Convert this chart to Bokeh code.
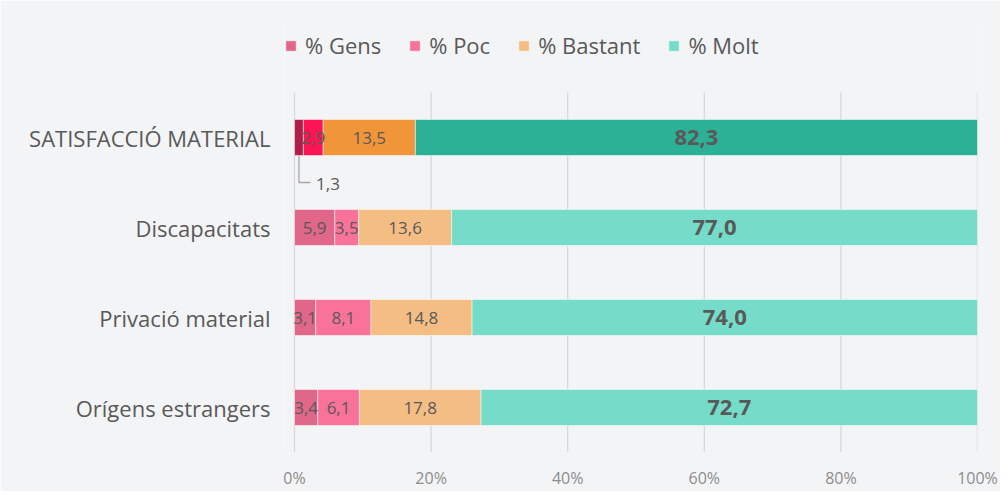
from bokeh.plotting import figure
from bokeh.models import (ColumnDataSource, Range1d, FixedTicker, PrintfTickFormatter,
                          Legend, LegendItem)
from bokeh.core.properties import value
from bokeh.embed import file_html
from bokeh.resources import INLINE

# ---- data ----
categories = ["SATISFACCIÓ MATERIAL", "Discapacitats", "Privació material", "Orígens estrangers"]
series = ["% Gens", "% Poc", "% Bastant", "% Molt"]
gens = [1.3, 5.9, 3.1, 3.4]
poc = [2.9, 3.5, 8.1, 6.1]
bastant = [13.5, 13.6, 14.8, 17.8]
molt = [82.3, 77.0, 74.0, 72.7]
x_ticks = [0, 20, 40, 60, 80, 100]

# ---- styles ----
colors_base = ["#e0668a", "#f8729a", "#f4bd84", "#74dcc8"]
colors_highlight = ["#b01f48", "#fc1454", "#f09538", "#2cb197"]
bg = "#f3f4f6"
grid_col = "#d9d9d9"
txt_col = "#595959"
FONT = "Open Sans"

n = len(categories)
ys = [n - 1 - i for i in range(n)]
FRAME_W, FRAME_H = 693, 434
y_top = -0.5 + FRAME_H / 90.0      # frame extends above the bars to hold the legend
x_start = -10 / 6.83               # small room left of 0% so the legend can start there

p = figure(frame_width=FRAME_W, frame_height=FRAME_H, output_backend="svg", toolbar_location=None,
           x_range=Range1d(x_start, 100), y_range=Range1d(-0.5, y_top),
           min_border_left=284, min_border_right=23, min_border_top=18, min_border_bottom=30,
           background_fill_color=bg, border_fill_color=bg)
p.outline_line_color = None

# vertical gridlines limited to the bar area
p.segment(x0=x_ticks, x1=x_ticks, y0=[-0.5] * len(x_ticks), y1=[n - 0.5] * len(x_ticks),
          line_color=grid_col, line_width=1.3, level="underlay")

all_vals = [gens, poc, bastant, molt]
cum = [0.0] * n
renderers = []
lab_x, lab_y, lab_t, lab_bold = [], [], [], []
lead_xs, lead_ys, out_x, out_y, out_t = [], [], [], [], []
for k, vals in enumerate(all_vals):
    left = list(cum)
    right = [c + v for c, v in zip(cum, vals)]
    cols = [colors_highlight[k] if i == 0 else colors_base[k] for i in range(n)]
    src = ColumnDataSource(dict(y=ys, left=left, right=right, color=cols))
    r = p.hbar(y="y", left="left", right="right", height=0.4, source=src,
               fill_color="color", line_color="#ffffff", line_alpha=0.5, line_width=1)
    renderers.append(r)
    for i, v in enumerate(vals):
        t = f"{v:.1f}".replace(".", ",")
        cx = left[i] + v / 2
        if v < 2:
            lead_xs.append([cx, cx, cx + 1.7])
            lead_ys.append([ys[i] - 0.2, ys[i] - 0.5, ys[i] - 0.5])
            out_x.append(cx + 2.5)
            out_y.append(ys[i] - 0.52)
            out_t.append(t)
        else:
            lab_x.append(cx)
            lab_y.append(ys[i])
            lab_t.append(t)
            lab_bold.append(k == len(all_vals) - 1)
    cum = right

# data labels
norm = ColumnDataSource(dict(x=[x for x, b in zip(lab_x, lab_bold) if not b],
                             y=[y for y, b in zip(lab_y, lab_bold) if not b],
                             t=[t for t, b in zip(lab_t, lab_bold) if not b]))
bold = ColumnDataSource(dict(x=[x for x, b in zip(lab_x, lab_bold) if b],
                             y=[y for y, b in zip(lab_y, lab_bold) if b],
                             t=[t for t, b in zip(lab_t, lab_bold) if b]))
p.text(x="x", y="y", text="t", source=norm, text_font=value(FONT), text_font_size="17px",
       text_align="center", text_baseline="middle", text_color=txt_col)
p.text(x="x", y="y", text="t", source=bold, text_font=value(FONT), text_font_size="22px",
       text_font_style="bold", text_align="center", text_baseline="middle", text_color=txt_col)

# leader line + outside label
p.multi_line(xs=lead_xs, ys=lead_ys, line_color="#a6a6a6", line_width=1.3)
p.text(x=out_x, y=out_y, text=out_t, text_font=value(FONT), text_font_size="17px",
       text_align="left", text_baseline="middle", text_color=txt_col)

# axes
p.xaxis.ticker = FixedTicker(ticks=x_ticks)
p.xaxis.formatter = PrintfTickFormatter(format="%d%%")
p.xaxis.axis_line_color = None
p.xaxis.major_tick_line_color = None
p.xaxis.major_tick_out = 0
p.xaxis.major_tick_in = 0
p.xaxis.minor_tick_line_color = None
p.xaxis.major_label_standoff = 14
p.xaxis.major_label_text_font = FONT
p.xaxis.major_label_text_font_size = "16px"
p.xaxis.major_label_text_color = "#8c8c8c"

p.yaxis.ticker = FixedTicker(ticks=ys)
p.yaxis.major_label_overrides = {y: c for y, c in zip(ys, categories)}
p.yaxis.axis_line_color = None
p.yaxis.major_tick_line_color = None
p.yaxis.minor_tick_line_color = None
p.yaxis.major_label_standoff = 8
p.yaxis.major_label_text_font = FONT
p.yaxis.major_label_text_font_size = "22px"
p.yaxis.major_label_text_color = txt_col

p.xgrid.grid_line_color = None
p.ygrid.grid_line_color = None

legend = Legend(items=[LegendItem(label=s, renderers=[r], index=1) for s, r in zip(series, renderers)],
                orientation="horizontal", location=(0, 392),
                glyph_width=13, glyph_height=13, label_standoff=8, spacing=27,
                padding=0, margin=0, border_line_color=None, background_fill_alpha=0,
                label_text_font=FONT, label_text_font_size="22px", label_text_color=txt_col)
p.add_layout(legend)

open("out.html", "w").write(file_html(p, INLINE))
